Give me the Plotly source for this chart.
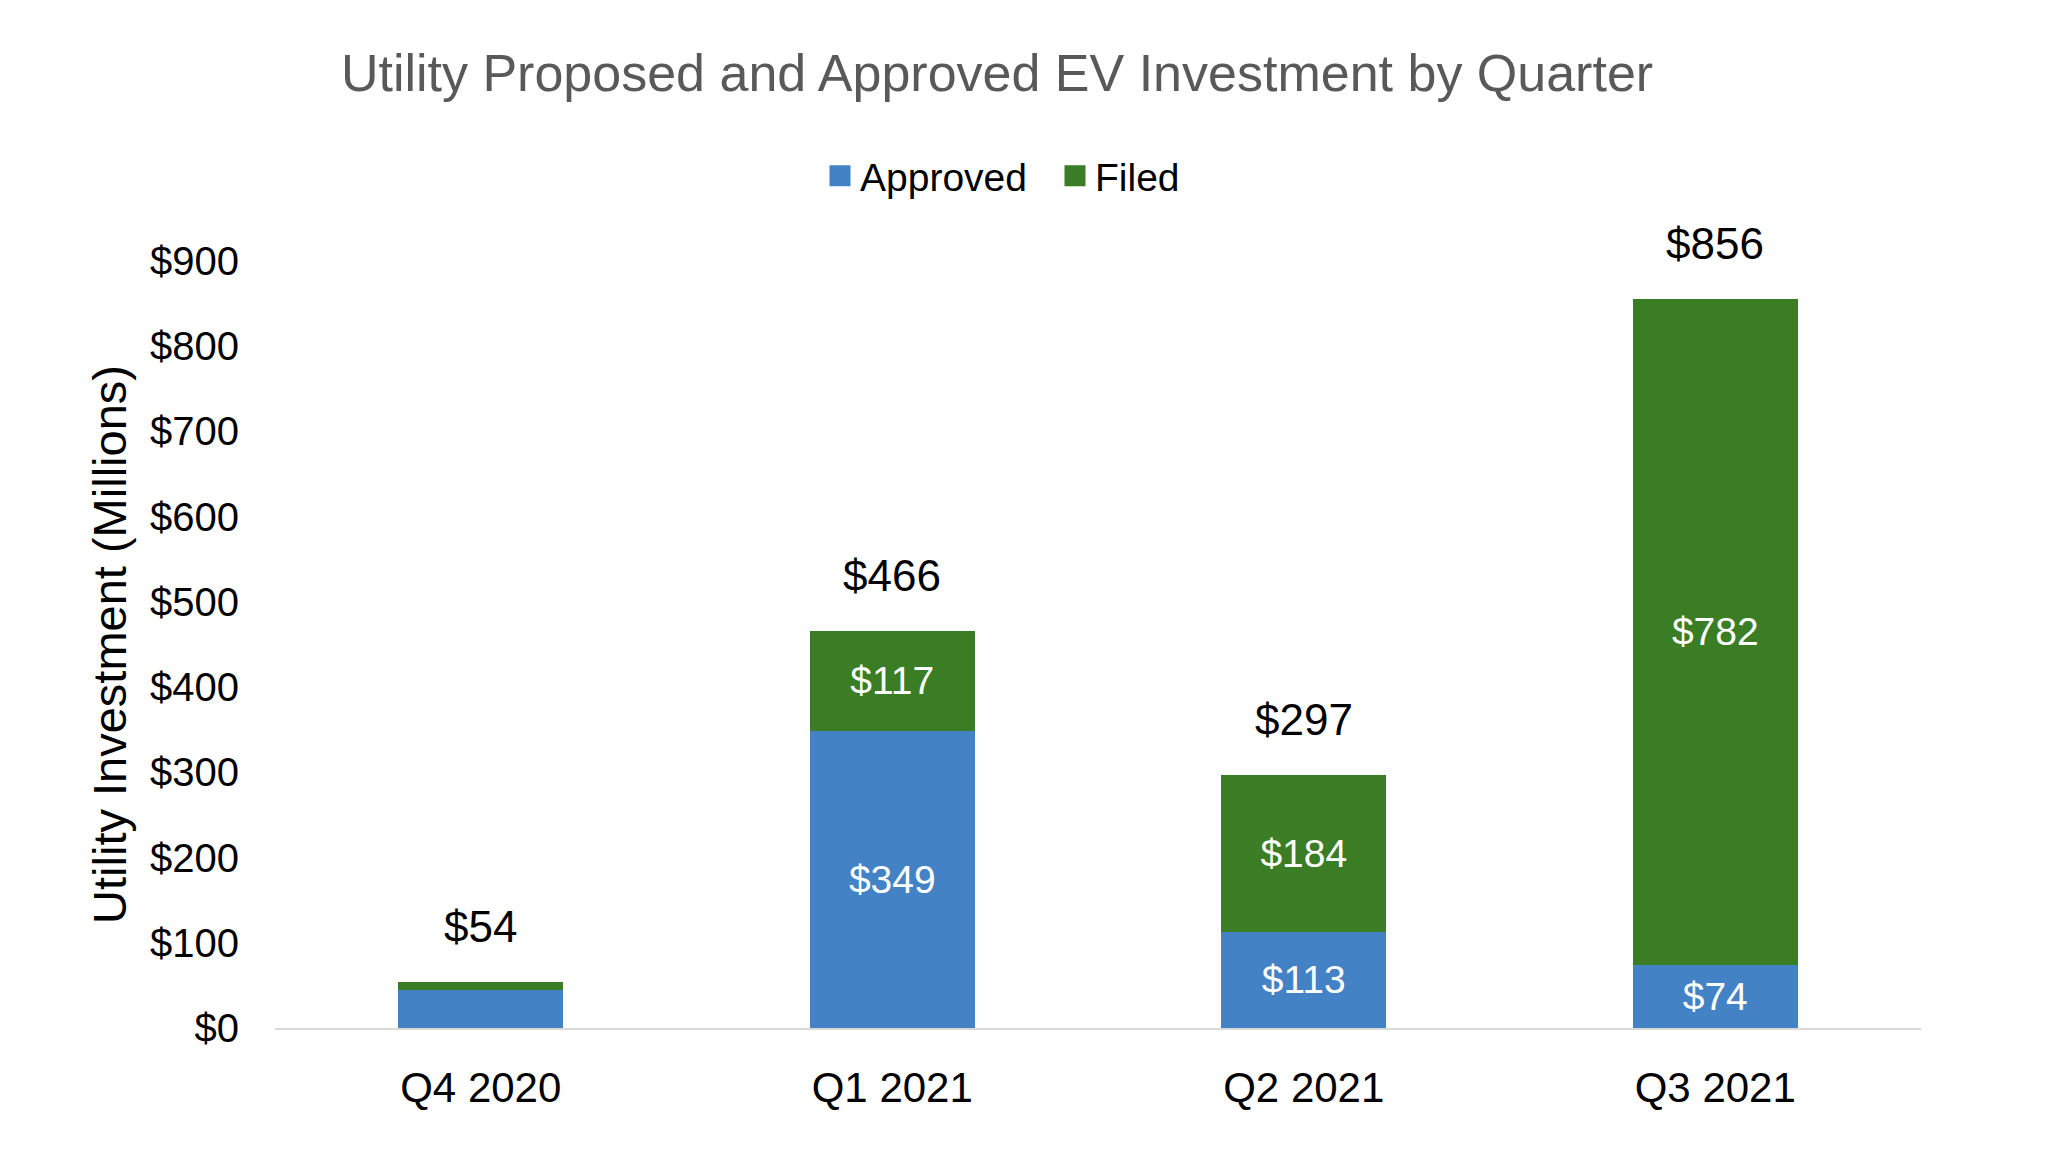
import plotly.graph_objects as go

quarters = ["Q4 2020", "Q1 2021", "Q2 2021", "Q3 2021"]
approved = [45, 349, 113, 74]
filed = [9, 117, 184, 782]
totals = [54, 466, 297, 856]
approved_labels = ["", "$349", "$113", "$74"]
filed_labels = ["", "$117", "$184", "$782"]
y_ticks = [0, 100, 200, 300, 400, 500, 600, 700, 800, 900]

BLUE = "#4382C5"
GREEN = "#3A7D24"
FONT = "Liberation Sans, Arial, sans-serif"

fig = go.Figure()
fig.add_trace(go.Bar(
    x=quarters, y=approved, name="Approved", marker_color=BLUE,
    marker_line_width=0, text=approved_labels, textposition="inside",
    insidetextanchor="middle", textangle=0, showlegend=False,
    textfont=dict(color="white", size=39, family=FONT),
))
fig.add_trace(go.Bar(
    x=quarters, y=filed, name="Filed", marker_color=GREEN,
    marker_line_width=0, text=filed_labels, textposition="inside",
    insidetextanchor="middle", textangle=0, showlegend=False,
    textfont=dict(color="white", size=39, family=FONT),
))
# legend entries with larger square swatches
for name, col in [("Approved", BLUE), ("Filed", GREEN)]:
    fig.add_trace(go.Scatter(x=[None], y=[None], mode="markers", name=name,
                             marker=dict(symbol="square", size=16, color=col,
                                         line=dict(width=5, color=col)),
                             showlegend=True, hoverinfo="skip"))

for q, t in zip(quarters, totals):
    fig.add_annotation(x=q, y=t, text=f"${t}", showarrow=False,
                       yanchor="middle", yshift=55,
                       font=dict(size=44, color="black", family=FONT))

fig.update_layout(
    width=2068, height=1156,
    barmode="stack", bargap=0.6,
    plot_bgcolor="white", paper_bgcolor="white",
    margin=dict(l=267, r=155, t=253, b=136),
    font=dict(family=FONT, color="black"),
    uniformtext=dict(minsize=39, mode="show"),
    title=dict(text="Utility Proposed and Approved EV Investment by Quarter",
               x=989 / 2068, xref="container", xanchor="center",
               y=1 - 65 / 1156, yref="container", yanchor="middle",
               font=dict(size=52, color="#595959", family=FONT)),
    legend=dict(orientation="h", xref="container", yref="container",
                x=812 / 2068, xanchor="left", y=1 - 168 / 1156, yanchor="middle",
                font=dict(size=39, color="black", family=FONT),
                itemwidth=30, tracegroupgap=0, traceorder="normal",
                entrywidth=190, entrywidthmode="pixels"),
    showlegend=True,
)
fig.update_xaxes(showline=True, linecolor="#D9D9D9", linewidth=2,
                 showgrid=False, ticks="", ticklabelstandoff=22,
                 tickfont=dict(size=42, color="black"))
fig.update_yaxes(range=[0, 900], tickvals=y_ticks,
                 ticktext=[f"${v}" for v in y_ticks],
                 showgrid=False, zeroline=False, showline=False,
                 ticks="", ticklabelstandoff=35,
                 tickfont=dict(size=40, color="black"),
                 title=dict(text="Utility Investment (Millions)", standoff=8,
                            font=dict(size=47, color="black")))

fig.write_html("out.html")
